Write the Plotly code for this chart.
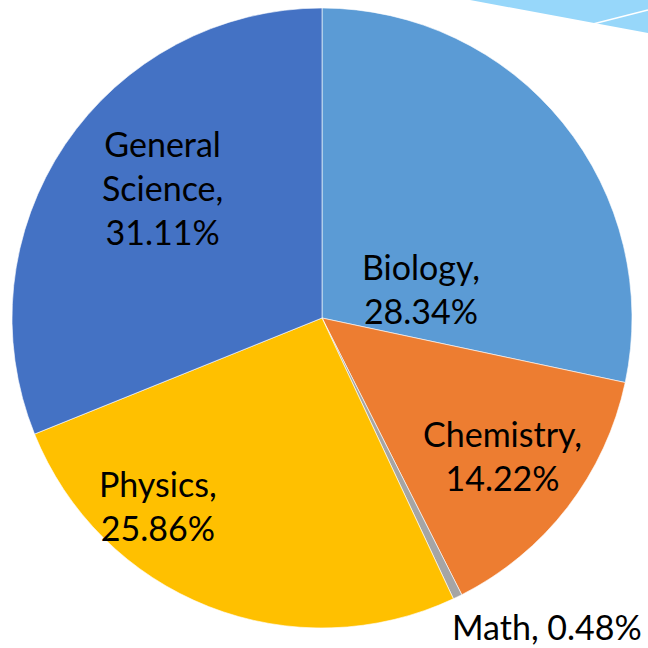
import plotly.graph_objects as go

categories = ["Biology", "Chemistry", "Math", "Physics", "General Science"]
values = [28.34, 14.22, 0.48, 25.86, 31.11]
colors = ["#5B9BD5", "#ED7D31", "#A5A5A5", "#FFC000", "#4472C4"]
label_text = ["Biology,<br>28.34%", "Chemistry,<br>14.22%", "Math, 0.48%",
              "Physics,<br>25.86%", "General<br>Science,<br>31.11%"]
# label centres in pixels (x, y from top); None y => anchored at bottom edge
label_pos = [(421, 288), (502, 455), (547, None), (158, 505), (162, 188)]

W = H = 648
fig = go.Figure()
fig.add_trace(go.Pie(
    labels=categories, values=values, sort=False, direction="clockwise",
    rotation=0, textinfo="none", hoverinfo="label+percent",
    marker=dict(colors=colors, line=dict(color="rgba(255,255,255,0.6)", width=1)),
    domain=dict(x=[12 / W, 632 / W], y=[(H - 628) / H, (H - 8) / H]),
    showlegend=False,
))

for txt, (px, py) in zip(label_text, label_pos):
    if py is None:
        fig.add_annotation(x=px / W, y=0, xref="paper", yref="paper",
                           text=txt, showarrow=False, xanchor="center", yanchor="bottom",
                           borderpad=0,
                           font=dict(family="Lato", size=34, color="#000000"))
    else:
        fig.add_annotation(x=px / W, y=1 - py / H, xref="paper", yref="paper",
                           text=txt, showarrow=False, xanchor="center", yanchor="middle",
                           font=dict(family="Lato", size=34, color="#000000"))

# decorative slide shape in top-right corner
fig.add_shape(type="path", xref="paper", yref="paper",
              path=f"M {470/W} 1 L 1 1 L 1 {1-33/H} Z",
              fillcolor="#97D7FA", line=dict(width=0))
fig.add_shape(type="line", xref="paper", yref="paper",
              x0=593 / W, y0=1 - 24 / H, x1=1, y1=1 - 10 / H,
              line=dict(color="white", width=1.5))

fig.update_layout(width=W, height=H, margin=dict(l=0, r=0, t=0, b=0),
                  paper_bgcolor="white", plot_bgcolor="white")
fig.write_html("out.html", config={"displayModeBar": False},
               post_script="document.body.style.margin='0';document.body.style.overflow='hidden';")
